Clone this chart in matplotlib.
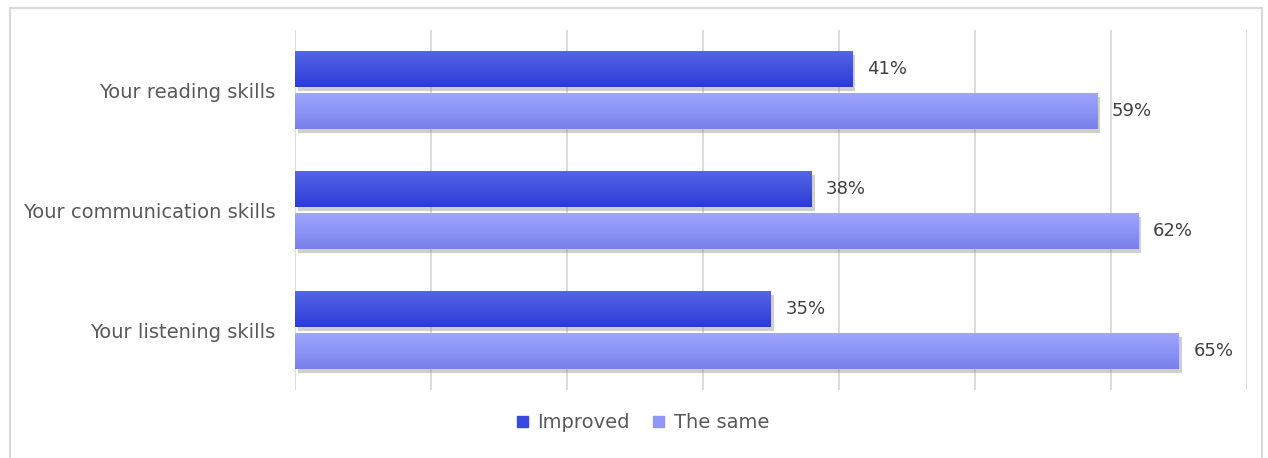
import matplotlib.pyplot as plt
import matplotlib.patheffects as pe
import numpy as np
from matplotlib.patches import Rectangle
from matplotlib.colors import LinearSegmentedColormap

plt.rcParams['font.family'] = ['DejaVu Sans']

categories = ["Your reading skills", "Your communication skills", "Your listening skills"]
improved = [41, 38, 35]
the_same = [59, 62, 65]
series_names = ["Improved", "The same"]

c_imp = "#3848e0"
c_same = "#8f97fb"

fig = plt.figure(figsize=(12.68, 4.58), dpi=100)
fig.patches.append(Rectangle((10 / 1268, -0.1), 1252 / 1268, 1.1 - 8 / 458,
                             transform=fig.transFigure, fill=False,
                             edgecolor="#d9d9d9", linewidth=1.5))
ax = fig.add_axes([295 / 1268, 1 - 390 / 458, 952 / 1268, 360 / 458])

y = np.arange(len(categories))
h = 0.3
off = 0.175
shadow = [pe.SimplePatchShadow(offset=(2, -3), shadow_rgbFace="#888888", alpha=0.4), pe.Normal()]
b1 = ax.barh(y - off, improved, height=h, color=c_imp, label=series_names[0], zorder=3)
b2 = ax.barh(y + off, the_same, height=h, color=c_same, label=series_names[1], zorder=3)

# vertical gradient on each bar
grads = [("#5565e6", "#2a3bd6"), ("#9ea6ff", "#7880ea")]
for bars, (top, bot) in zip((b1, b2), grads):
    cmap = LinearSegmentedColormap.from_list("g", [top, bot])
    for p in bars:
        p.set_path_effects(shadow)
        x0, y0 = p.get_x(), p.get_y()
        w, hh = p.get_width(), p.get_height()
        im = ax.imshow(np.linspace(0, 1, 64).reshape(-1, 1), cmap=cmap, aspect="auto",
                       extent=(x0, x0 + w, y0 + hh, y0), zorder=4, interpolation="bilinear")
        im.set_clip_path(p)

for bars in (b1, b2):
    for p in bars:
        ax.text(p.get_width() + 1.05, p.get_y() + p.get_height() / 2,
                "%d%%" % p.get_width(), va="center", ha="left",
                fontsize=13, color="#404040", zorder=5)

ax.set_xlim(0, 70)
ax.set_ylim(len(categories) - 0.5, -0.5)
ax.set_xticks(np.arange(0, 71, 10))
ax.set_xticklabels([])
ax.tick_params(axis="x", length=0)
ax.tick_params(axis="y", length=0, pad=14, labelsize=14, labelcolor="#595959")
ax.set_yticks(y)
ax.set_yticklabels(categories)
ax.grid(axis="x", color="#d9d9d9", linewidth=1.3, zorder=0)
ax.set_axisbelow(True)
for s in ax.spines.values():
    s.set_visible(False)

handles = [Rectangle((0, 0), 1, 1, color=c_imp), Rectangle((0, 0), 1, 1, color=c_same)]
leg = fig.legend(handles, series_names, loc="center", bbox_to_anchor=(643 / 1268, 1 - 423 / 458),
                 ncol=2, frameon=False, fontsize=14, handlelength=0.55, handleheight=0.55,
                 handletextpad=0.5, columnspacing=1.2)
for t in leg.get_texts():
    t.set_color("#595959")

fig.savefig("out.png", dpi=100)
